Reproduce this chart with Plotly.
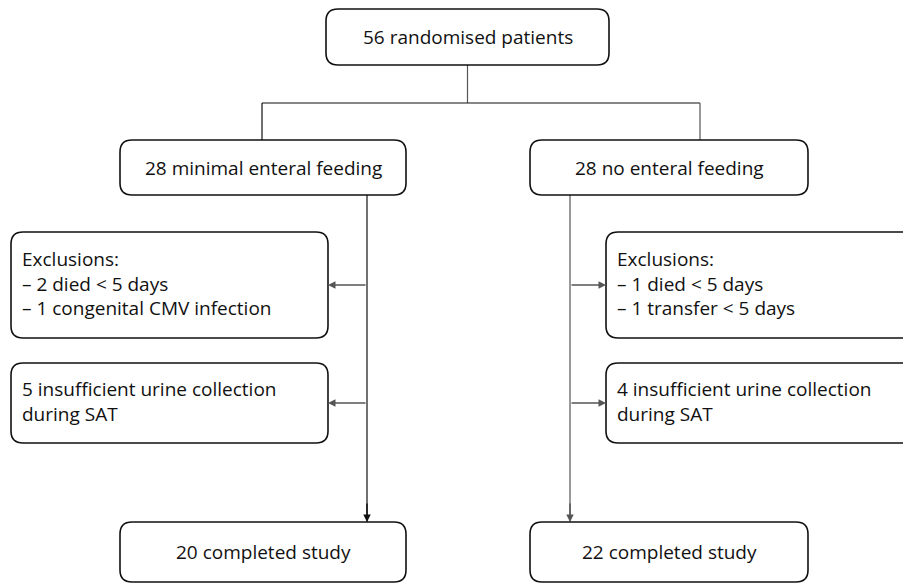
import plotly.graph_objects as go

# ---- content (text of each node) ----
top_label = "56 randomised patients"
arm_labels = ["28 minimal enteral feeding", "28 no enteral feeding"]
exclusion_labels = [
    ["Exclusions:", "– 2 died < 5 days", "– 1 congenital CMV infection"],
    ["Exclusions:", "– 1 died < 5 days", "– 1 transfer < 5 days"],
]
urine_labels = [
    ["5 insufficient urine collection", "during SAT"],
    ["4 insufficient urine collection", "during SAT"],
]
completed_labels = ["20 completed study", "22 completed study"]

# ---- layout geometry (page-pixel space) ----
PAGE_W, PAGE_H = 911, 584
OFF = 8  # default body margin of the html page
FONT = "Open Sans"
FS = 19
top_box = (326, 9, 609, 65)
arm_boxes = [(120, 140, 406, 195), (530, 140, 808, 195)]
excl_boxes = [(11, 232, 328, 338), (606, 232, 930, 338)]
urine_boxes = [(11, 363, 328, 443), (606, 363, 930, 443)]
done_boxes = [(120, 522, 406, 582), (530, 522, 808, 582)]
split_y = 103
stem_x = [367, 570]
arrow_y = [285, 403]

fig = go.Figure()
shapes = []
annotations = []


def rbox(b, r=12, color="#111", w=1.6):
    x0, y0, x1, y1 = b
    p = (f"M {x0+r},{y0} L {x1-r},{y0} Q {x1},{y0} {x1},{y0+r} "
         f"L {x1},{y1-r} Q {x1},{y1} {x1-r},{y1} L {x0+r},{y1} "
         f"Q {x0},{y1} {x0},{y1-r} L {x0},{y0+r} Q {x0},{y0} {x0+r},{y0} Z")
    shapes.append(dict(type="path", path=p, xref="x", yref="y",
                       line=dict(color=color, width=w), fillcolor="white", layer="above"))


def line(x0, y0, x1, y1, color="#333", w=1.2):
    shapes.append(dict(type="line", x0=x0, y0=y0, x1=x1, y1=y1, xref="x", yref="y",
                       line=dict(color=color, width=w), layer="below"))


def arrow(x0, y0, x1, y1, color="#333"):
    annotations.append(dict(x=x1, y=y1, ax=x0, ay=y0, xref="x", yref="y",
                            axref="x", ayref="y", text="", showarrow=True,
                            arrowhead=2, arrowsize=1.0, arrowwidth=1.5,
                            arrowcolor=color))


def text(x, y, lines, align="center"):
    annotations.append(dict(x=x, y=y, xref="x", yref="y", text="<br>".join(lines),
                            showarrow=False, align=align,
                            xanchor="center" if align == "center" else "left",
                            yanchor="middle",
                            font=dict(family=FONT, size=FS, color="#111")))


# connectors
cx = (top_box[0] + top_box[2]) / 2
line(cx, top_box[3], cx, split_y, color="#555")
left_drop = 262
right_drop = 700
line(left_drop, split_y, right_drop, split_y, color="#111")
line(left_drop, split_y, left_drop, arm_boxes[0][1], color="#111")
line(right_drop, split_y, right_drop, arm_boxes[1][1], color="#555")

for i in range(2):
    sx = stem_x[i]
    col = "#111" if i == 0 else "#555"
    line(sx, arm_boxes[i][3], sx, done_boxes[i][1], color=col)
    arrow(sx, done_boxes[i][1] - 20, sx, done_boxes[i][1], color=col)
    for j, ay in enumerate(arrow_y):
        tgt = excl_boxes[i] if j == 0 else urine_boxes[i]
        tx = tgt[2] if i == 0 else tgt[0]
        arrow(sx, ay, tx, ay, color="#555")

# boxes
rbox(top_box)
for i in range(2):
    rbox(arm_boxes[i])
    rbox(excl_boxes[i])
    rbox(urine_boxes[i])
    rbox(done_boxes[i])

# texts
text(cx, (top_box[1] + top_box[3]) / 2, [top_label])
for i in range(2):
    b = arm_boxes[i]
    text((b[0] + b[2]) / 2, (b[1] + b[3]) / 2, [arm_labels[i]])
    b = done_boxes[i]
    text((b[0] + b[2]) / 2, (b[1] + b[3]) / 2, [completed_labels[i]])
    b = excl_boxes[i]
    text(b[0] + 9, (b[1] + b[3]) / 2 - 2, exclusion_labels[i], align="left")
    b = urine_boxes[i]
    text(b[0] + 9, (b[1] + b[3]) / 2 - 2, urine_labels[i], align="left")

fig.update_layout(
    width=PAGE_W - OFF, height=PAGE_H - OFF, margin=dict(l=0, r=0, t=0, b=0),
    paper_bgcolor="white", plot_bgcolor="white",
    xaxis=dict(range=[OFF, PAGE_W], visible=False, fixedrange=True),
    yaxis=dict(range=[PAGE_H, OFF], visible=False, fixedrange=True),
    shapes=shapes, annotations=annotations, showlegend=False,
)
fig.write_html("out.html")
